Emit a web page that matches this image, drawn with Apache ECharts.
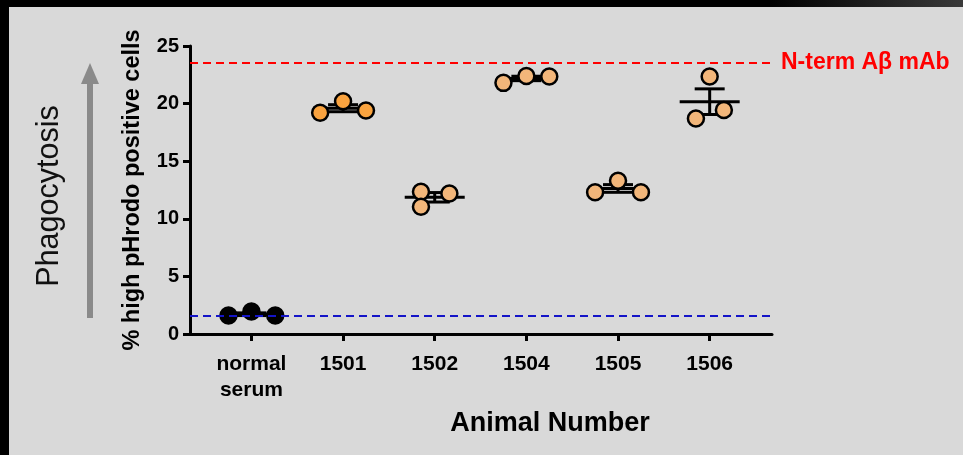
<!DOCTYPE html>
<html>
<head>
<meta charset="utf-8">
<script src="https://cdn.jsdelivr.net/npm/echarts@6/dist/echarts.min.js"></script>
<style>
html,body{margin:0;padding:0;background:#d9d9d9;}
#chart{width:963px;height:455px;}
</style>
</head>
<body>
<div id="chart"></div>
<script>
// ---- data ----
const categories = ['normal\nserum', '1501', '1502', '1504', '1505', '1506'];
const categoryPositions = [1, 2, 3, 4, 5, 6];
const normalSerum = [1.6, 1.95, 1.6];
const animal1501 = [19.2, 20.2, 19.4];
const animal1502 = [12.35, 11.05, 12.2];
const animal1504 = [21.8, 22.4, 22.35];
const animal1505 = [12.3, 13.3, 12.3];
const animal1506 = [22.35, 18.7, 19.45];
// horizontal scatter spread of the dots within each group (category units)
const spreadNormal = [-0.25, 0, 0.26];
const spread1501 = [-0.25, 0, 0.25];
const spread1502 = [-0.15, -0.15, 0.16];
const spread1504 = [-0.25, 0, 0.25];
const spread1505 = [-0.25, 0, 0.25];
const spread1506 = [0, -0.15, 0.155];
const yTicks = [0, 5, 10, 15, 20, 25];
const referenceMab = 23.55;
const referenceNormal = 1.6;
const referenceLabel = 'N-term Aβ mAb';

const groups = [normalSerum, animal1501, animal1502, animal1504, animal1505, animal1506];
const spreads = [spreadNormal, spread1501, spread1502, spread1504, spread1505, spread1506];
const fills = ['#000000', '#f9a33f', '#f2b67a', '#f2b67a', '#f2b67a', '#f2b67a'];

function mean(a) { return a.reduce((s, v) => s + v, 0) / a.length; }
function sem(a) {
  const m = mean(a);
  const v = a.reduce((s, x) => s + (x - m) * (x - m), 0) / (a.length - 1);
  return Math.sqrt(v) / Math.sqrt(a.length);
}

const errData = groups.map((g, i) => [categoryPositions[i], mean(g), sem(g)]);

const scatterSeries = groups.map((g, i) => ({
  type: 'scatter',
  name: categories[i],
  z: 4,
  symbol: 'circle',
  symbolSize: 16,
  itemStyle: { color: fills[i], borderColor: '#000', borderWidth: 2.5, opacity: 1 },
  emphasis: { disabled: true },
  data: g.map((v, k) => [categoryPositions[i] + spreads[i][k], v])
}));

const chart = echarts.init(document.getElementById('chart'));
chart.setOption({
  backgroundColor: '#d9d9d9',
  animation: false,
  grid: { left: 190, right: 191, top: 46, bottom: 121 },
  xAxis: {
    type: 'value',
    min: 0.33,
    max: 6.68,
    name: 'Animal Number',
    nameLocation: 'middle',
    nameGap: 76,
    nameTextStyle: { fontFamily: 'Liberation Sans, Arial', fontWeight: 'bold', fontSize: 27, color: '#000', padding: [0, 0, 0, 138] },
    splitLine: { show: false },
    axisLine: { lineStyle: { color: '#000', width: 3 } },
    axisTick: { customValues: categoryPositions, length: 7, lineStyle: { color: '#000', width: 3 } },
    axisLabel: {
      customValues: categoryPositions,
      formatter: v => categories[Math.round(v) - 1],
      fontFamily: 'Liberation Sans, Arial', fontWeight: 'bold', fontSize: 21, color: '#000',
      lineHeight: 26, margin: 17
    }
  },
  yAxis: {
    type: 'value',
    min: 0, max: 25, interval: 5,
    name: '% high pHrodo positive cells',
    nameLocation: 'middle',
    nameGap: 45,
    nameTextStyle: { fontFamily: 'Liberation Sans, Arial', fontWeight: 'bold', fontSize: 23.5, color: '#000' },
    splitLine: { show: false },
    axisLine: { show: true, lineStyle: { color: '#000', width: 3 } },
    axisTick: { show: true, length: 7, lineStyle: { color: '#000', width: 3 } },
    axisLabel: {
      formatter: v => (yTicks.indexOf(v) >= 0 ? String(v) : ''),
      fontFamily: 'Liberation Sans, Arial', fontWeight: 'bold', fontSize: 20, color: '#000', margin: 11
    }
  },
  series: [
    {
      type: 'custom',
      z: 3,
      silent: true,
      data: errData,
      renderItem: function (params, api) {
        const c = api.value(0), m = api.value(1), s = api.value(2);
        const p = api.coord([c, m]);
        const t = api.coord([c, m + s]);
        const b = api.coord([c, m - s]);
        const st = { stroke: '#000', lineWidth: 3 };
        return {
          type: 'group',
          children: [
            { type: 'line', shape: { x1: p[0] - 30, y1: p[1], x2: p[0] + 30, y2: p[1] }, style: st },
            { type: 'line', shape: { x1: p[0], y1: t[1], x2: p[0], y2: b[1] }, style: st },
            { type: 'line', shape: { x1: p[0] - 15, y1: t[1], x2: p[0] + 15, y2: t[1] }, style: st },
            { type: 'line', shape: { x1: p[0] - 15, y1: b[1], x2: p[0] + 15, y2: b[1] }, style: st }
          ]
        };
      },
      markLine: {
        silent: true,
        symbol: 'none',
        animation: false,
        data: [
          {
            yAxis: referenceMab,
            lineStyle: { color: '#ff0000', width: 2.2, type: [8, 5] },
            label: {
              show: true, position: 'end', distance: 9, formatter: referenceLabel,
              fontFamily: 'Liberation Sans, Arial', fontWeight: 'bold', fontSize: 23, color: '#ff0000'
            }
          },
          {
            yAxis: referenceNormal,
            lineStyle: { color: '#1414c8', width: 2.2, type: [8, 5] },
            label: { show: false }
          }
        ]
      }
    }
  ].concat(scatterSeries),
  graphic: [
    { type: 'rect', z: 10, shape: { x: 0, y: 0, width: 963, height: 7 },
      style: { fill: new echarts.graphic.LinearGradient(0, 0, 1, 0, [
        { offset: 0, color: '#000' }, { offset: 0.8, color: '#000' }, { offset: 1, color: '#3a3a3a' }]) } },
    { type: 'rect', z: 10, shape: { x: 0, y: 0, width: 9, height: 455 }, style: { fill: '#000' } },
    { type: 'rect', z: 10, shape: { x: 87, y: 82, width: 6, height: 236 }, style: { fill: '#8a8a8a' } },
    { type: 'polygon', z: 10, shape: { points: [[81, 84], [99, 84], [90, 63]] }, style: { fill: '#8a8a8a' } },
    { type: 'text', z: 10, x: 50, y: 196, rotation: Math.PI / 2,
      style: { text: 'Phagocytosis', fontFamily: 'Liberation Sans, Arial', fontSize: 30.5, fill: '#111',
        align: 'center', verticalAlign: 'middle' } }
  ]
});
</script>
</body>
</html>
